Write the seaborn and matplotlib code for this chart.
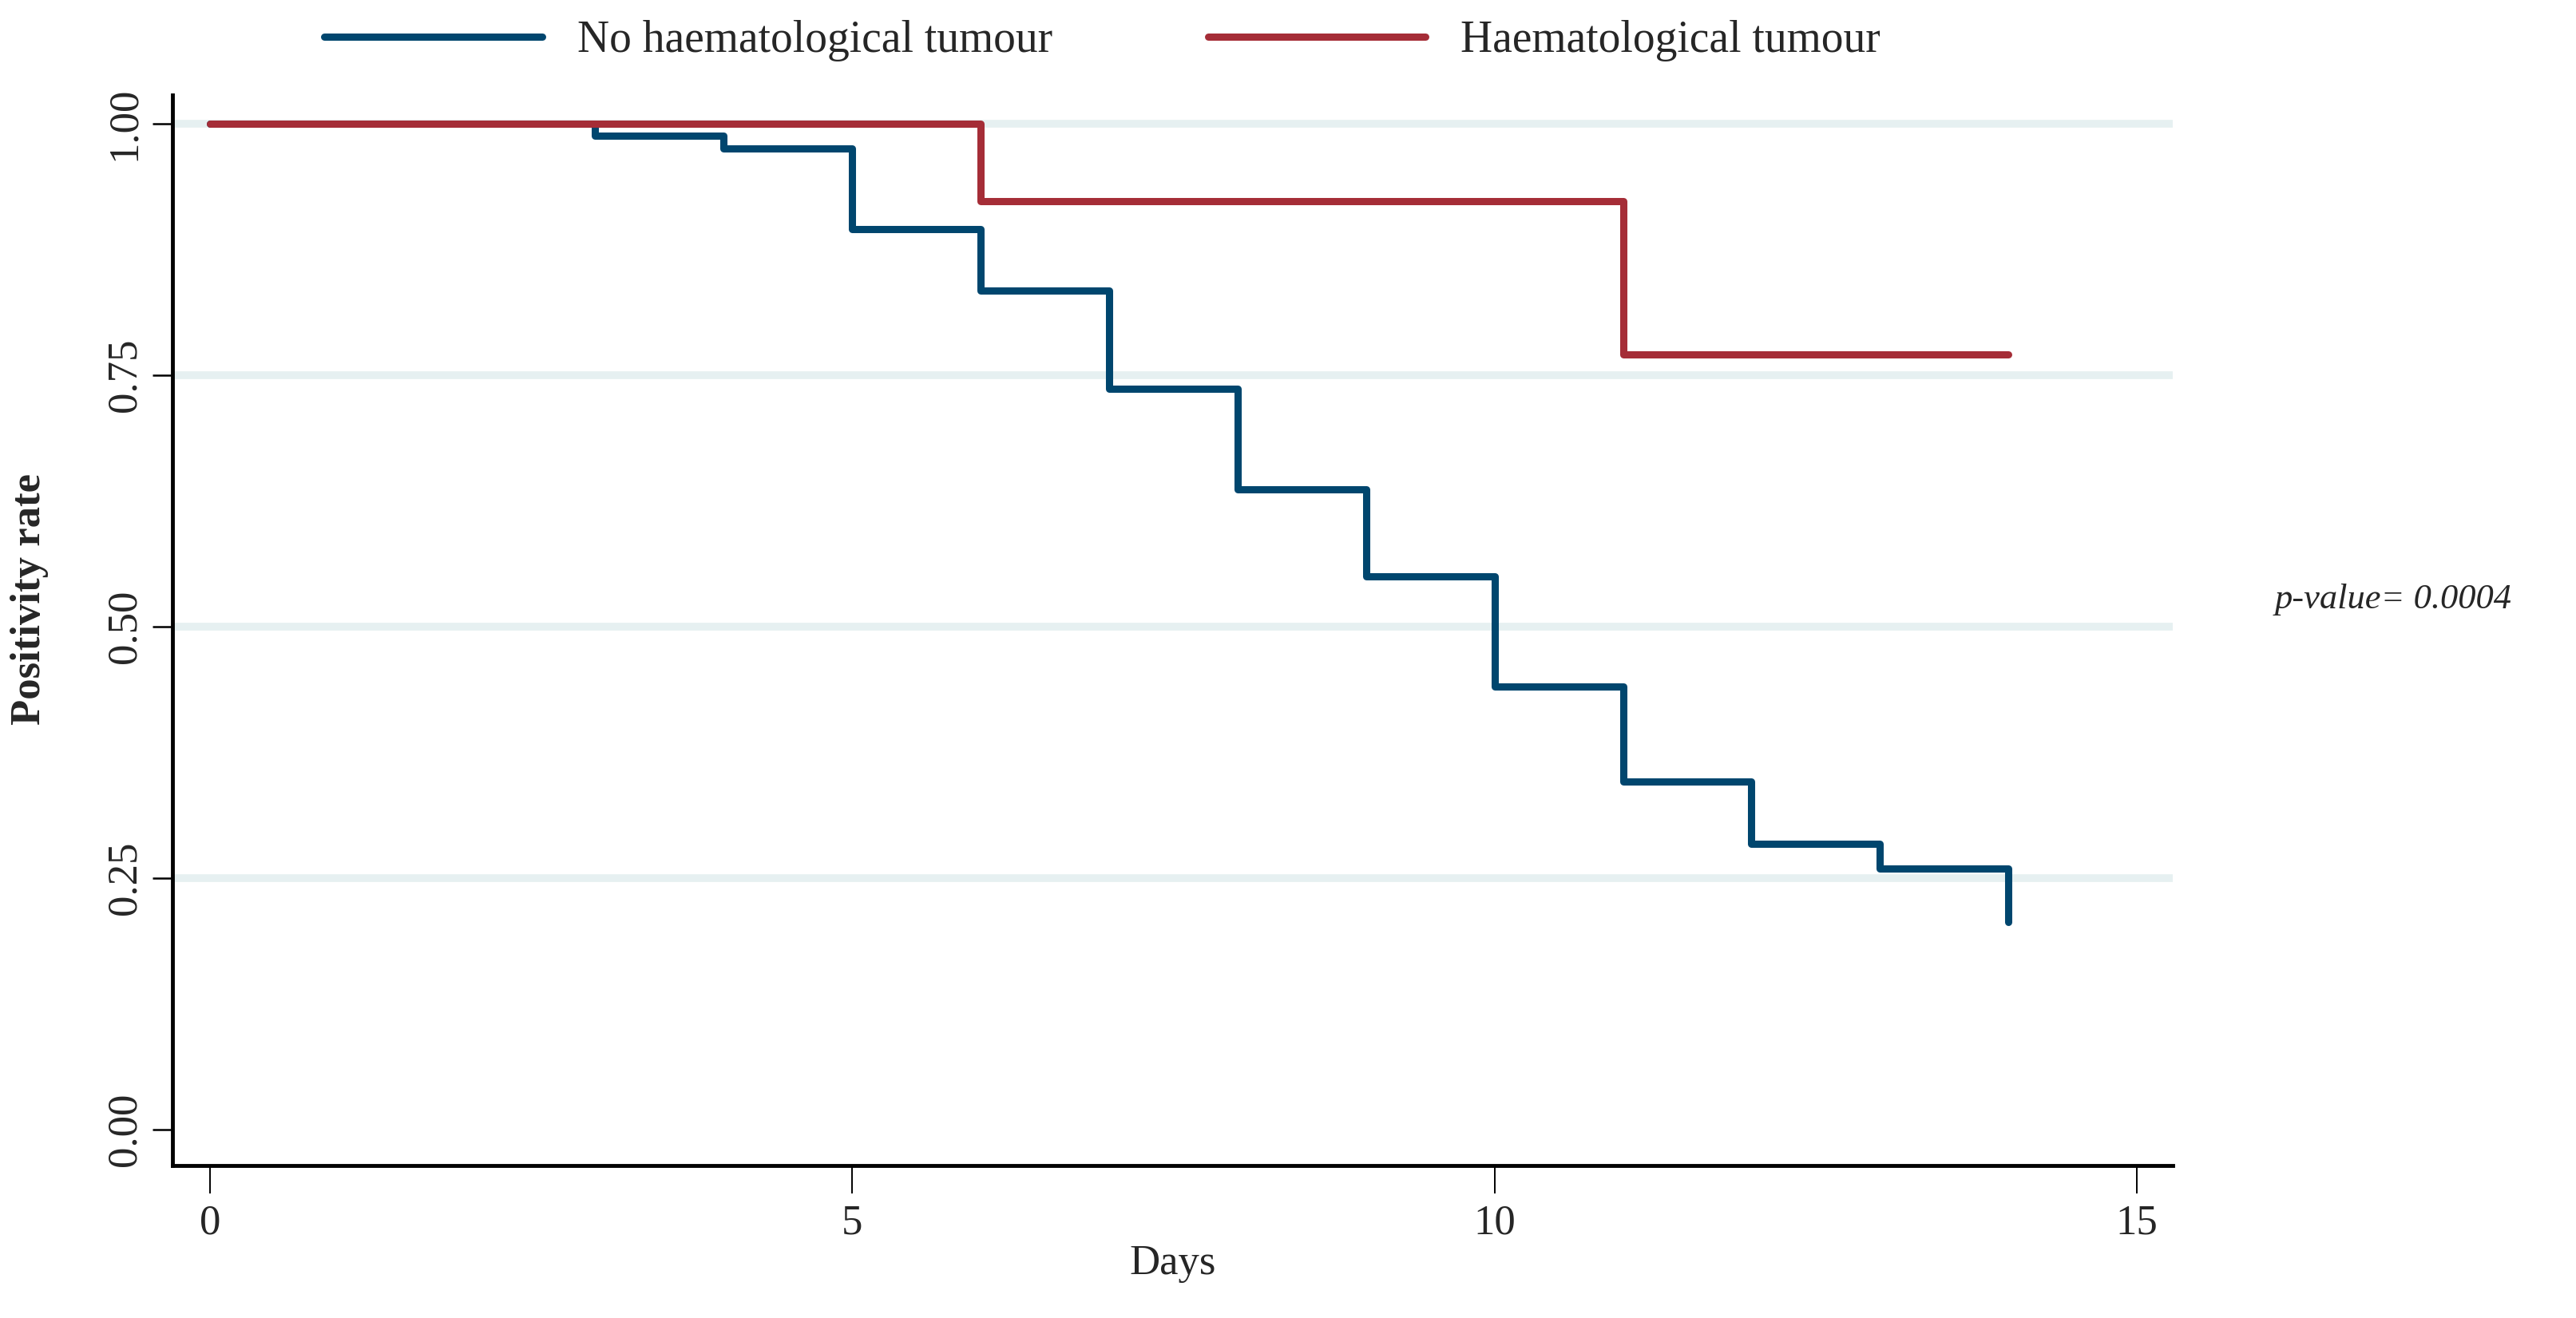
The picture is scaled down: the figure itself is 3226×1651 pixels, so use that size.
import matplotlib
matplotlib.use("Agg")
import matplotlib.pyplot as plt
import seaborn as sns
import pandas as pd

# Data
groups = ["No haematological tumour", "Haematological tumour"]
days_no = [0, 3, 4, 5, 6, 7, 8, 9, 10, 11, 12, 13, 14]
rate_no = [1.0, 0.988, 0.975, 0.895, 0.834, 0.736, 0.636, 0.550, 0.440, 0.346, 0.284, 0.259, 0.206]
days_haem = [0, 6, 11, 14]
rate_haem = [1.0, 0.923, 0.770, 0.770]
y_ticks = [0.00, 0.25, 0.50, 0.75, 1.00]
y_ticklabels = ["0.00", "0.25", "0.50", "0.75", "1.00"]
x_ticks = [0, 5, 10, 15]
p_text = "p-value= 0.0004"

df = pd.DataFrame({
    "Days": days_no + days_haem,
    "rate": rate_no + rate_haem,
    "group": [groups[0]] * len(days_no) + [groups[1]] * len(days_haem),
})

sns.set_theme(style="white")
plt.rcParams["font.family"] = ["Liberation Serif", "DejaVu Serif"]

fig = plt.figure(figsize=(32.26, 16.51), dpi=100)
ax = fig.add_axes([0.067, 0.1157, 0.7765, 0.812])

palette = {groups[0]: "#00466e", groups[1]: "#a52d37"}
sns.lineplot(data=df, x="Days", y="rate", hue="group", hue_order=groups,
             palette=palette, estimator=None, drawstyle="steps-post",
             linewidth=6.5, ax=ax, legend=True, zorder=3)

ax.set_xlim(-0.29, 15.28)
ax.set_ylim(-0.036, 1.028)
ax.set_xticks(x_ticks)
ax.set_xticklabels([str(t) for t in x_ticks], fontsize=38)
ax.set_yticks(y_ticks)
ax.set_yticklabels(y_ticklabels, fontsize=38, rotation=90, va="center")

for yt in y_ticks[1:]:
    ax.axhline(yt, color="#e6f0f1", linewidth=7, zorder=1)

for s in ["top", "right"]:
    ax.spines[s].set_visible(False)
for s in ["left", "bottom"]:
    ax.spines[s].set_linewidth(3.5)
    ax.spines[s].set_color("black")

ax.tick_params(axis="y", length=18, width=1.8, color="black", pad=8, left=True)
ax.tick_params(axis="x", length=25, width=1.4, color="black", pad=10, bottom=True)

ax.set_xlabel("Days", fontsize=38, labelpad=2)
ax.set_ylabel("Positivity rate", fontsize=38, fontweight="bold")
ax.yaxis.set_label_coords(-0.0715, 0.529)
ax.yaxis.label.set_va("center")

handles, labels = ax.get_legend_handles_labels()
for h in handles:
    h.set_linewidth(6.5)
ax.legend(handles, labels, loc="center", bbox_to_anchor=(0.428, 0.969),
          bbox_transform=fig.transFigure, ncol=2, frameon=False, fontsize=40,
          handlelength=4.9, handletextpad=0.8, columnspacing=3.5)

fig.text(0.883, 0.545, p_text, fontsize=32, style="italic", ha="left", va="center")

fig.savefig("out.png", dpi=100, facecolor="white")
